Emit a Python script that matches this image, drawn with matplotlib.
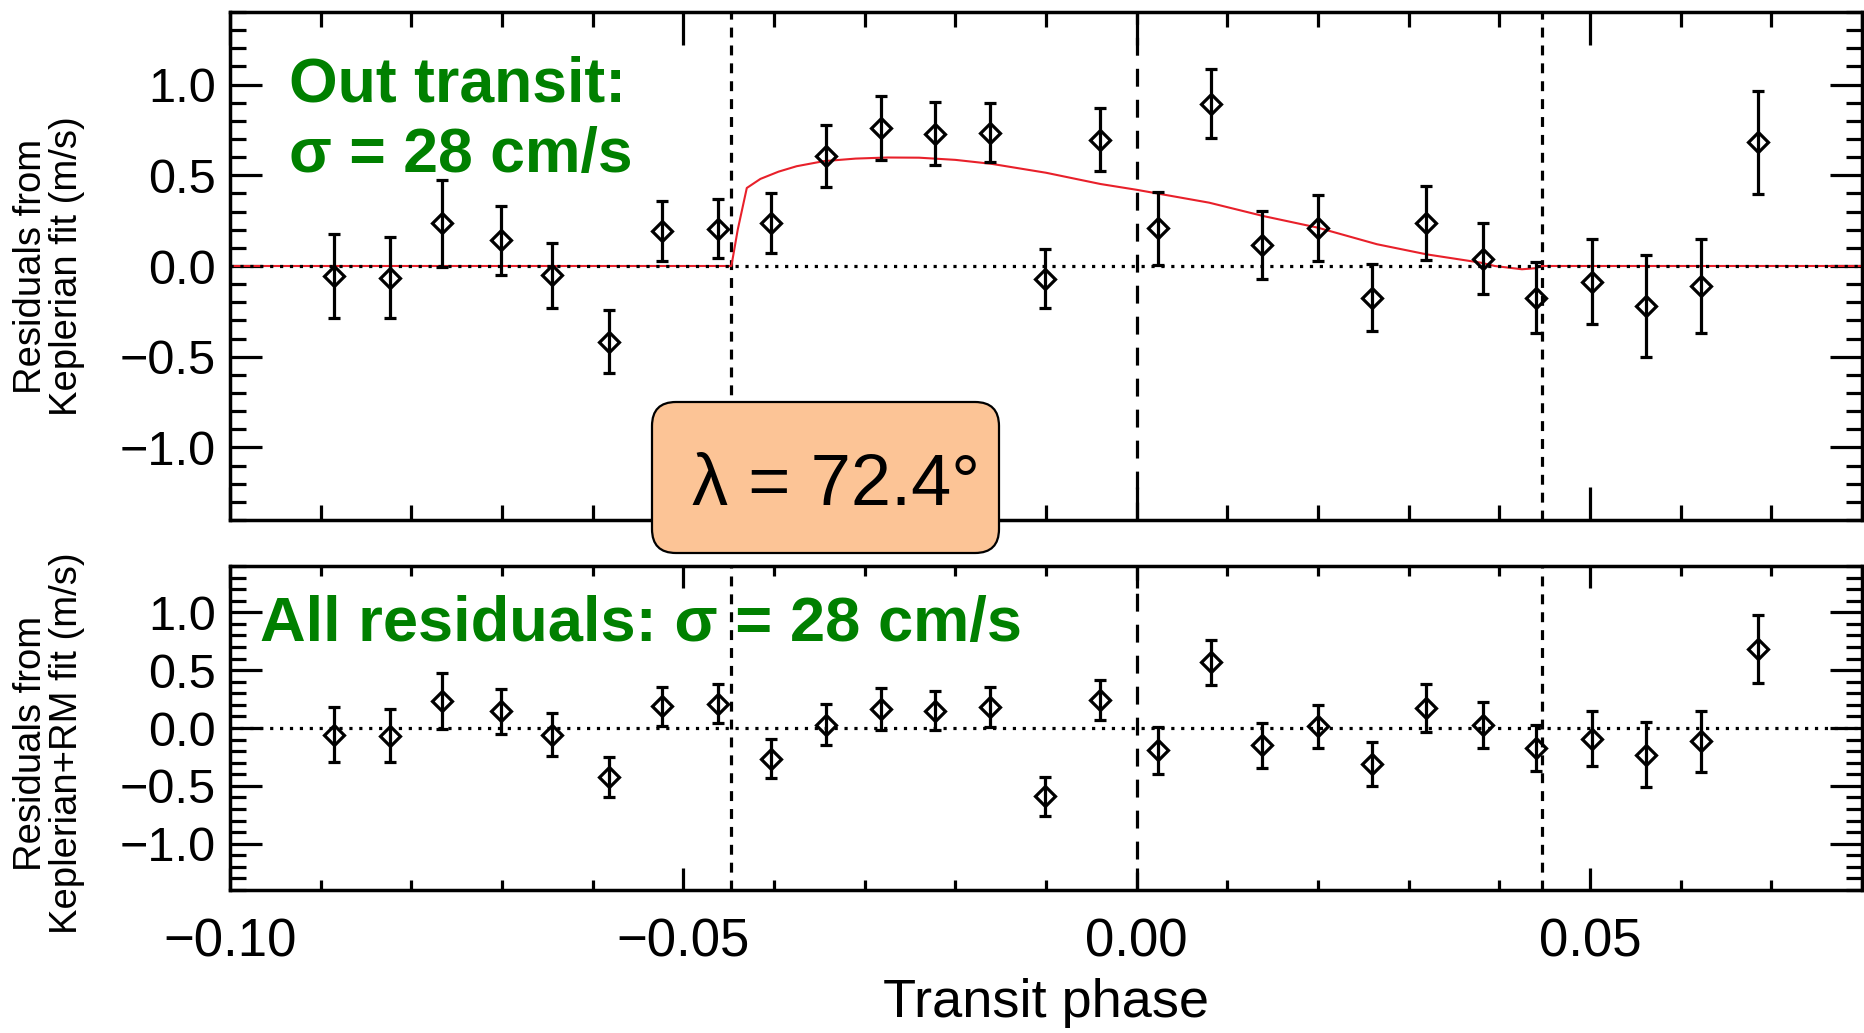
import matplotlib
matplotlib.use("Agg")
import matplotlib.pyplot as plt
from matplotlib.patches import FancyBboxPatch
from matplotlib.ticker import MultipleLocator, FuncFormatter
from matplotlib.transforms import IdentityTransform

plt.rcParams["font.family"] = ["Liberation Sans", "DejaVu Sans"]

# ── Data ──────────────────────────────────────────────────────────────────────
phase = [-0.0885, -0.0824, -0.0766, -0.0701, -0.0645, -0.0582, -0.0523, -0.0462,
         -0.0403, -0.0343, -0.0282, -0.0222, -0.0162, -0.0101, -0.0040, 0.0023,
         0.0082, 0.0138, 0.0200, 0.0260, 0.0319, 0.0382, 0.0440, 0.0502,
         0.0562, 0.0622, 0.0685]

res_kep = [-0.055, -0.064, 0.235, 0.141, -0.051, -0.417, 0.193, 0.206,
           0.235, 0.606, 0.760, 0.730, 0.734, -0.070, 0.697, 0.207,
           0.894, 0.116, 0.211, -0.174, 0.239, 0.040, -0.174, -0.086,
           -0.220, -0.110, 0.683]
err_kep = [0.231, 0.223, 0.238, 0.191, 0.179, 0.172, 0.165, 0.163,
           0.165, 0.170, 0.176, 0.172, 0.162, 0.164, 0.172, 0.203,
           0.190, 0.188, 0.181, 0.183, 0.204, 0.195, 0.196, 0.234,
           0.281, 0.259, 0.284]

res_rm = [-0.057, -0.066, 0.230, 0.144, -0.057, -0.422, 0.187, 0.210,
          -0.267, 0.029, 0.167, 0.149, 0.181, -0.589, 0.239, -0.193,
          0.569, -0.149, 0.014, -0.310, 0.172, 0.029, -0.172, -0.092,
          -0.230, -0.115, 0.684]
err_rm = [0.236, 0.230, 0.241, 0.194, 0.184, 0.171, 0.171, 0.168,
          0.168, 0.175, 0.180, 0.170, 0.170, 0.168, 0.174, 0.205,
          0.195, 0.193, 0.184, 0.190, 0.204, 0.198, 0.198, 0.240,
          0.284, 0.264, 0.292]

# RM model curve
model_phase = [-0.100, -0.0447, -0.0440, -0.0430, -0.0415, -0.0395, -0.0375,
               -0.0345, -0.0310, -0.0275, -0.0240, -0.0200, -0.0160, -0.0100,
               -0.0040, 0.0000, 0.0080, 0.0140, 0.0200, 0.0265, 0.0320,
               0.0380, 0.0395, 0.0425, 0.0440, 0.0447, 0.080]
model_rv = [0.0, 0.0, 0.20, 0.43, 0.48, 0.52, 0.55,
            0.578, 0.592, 0.598, 0.597, 0.585, 0.563, 0.514,
            0.452, 0.420, 0.349, 0.275, 0.211, 0.120, 0.064,
            0.018, 0.0, -0.018, -0.012, 0.0, 0.0]

t_ingress = -0.0447
t_egress = 0.0447

GREEN = "#008000"
RED = "#E8202A"
LW = 2.3


def _minus(fmt):
    return FuncFormatter(lambda v, pos: fmt.format(v).replace("-", "\u2212"))


# ── Figure ────────────────────────────────────────────────────────────────────
W, H = 1865, 1033
fig = plt.figure(figsize=(W / 100, H / 100), dpi=100)
ax_top = fig.add_axes([230 / W, 1 - 520 / H, 1632 / W, 508 / H])
ax_bot = fig.add_axes([230 / W, 1 - 890 / H, 1632 / W, 324 / H])


def style_axes(ax, xmaj, xmin):
    ax.set_xlim(-0.10, 0.08)
    ax.set_ylim(-1.4, 1.4)
    ax.xaxis.set_major_locator(MultipleLocator(0.05))
    ax.xaxis.set_minor_locator(MultipleLocator(0.01))
    ax.xaxis.set_major_formatter(_minus("{:.2f}"))
    ax.yaxis.set_major_locator(MultipleLocator(0.5))
    ax.yaxis.set_minor_locator(MultipleLocator(0.1))
    ax.yaxis.set_major_formatter(_minus("{:.1f}"))
    ax.tick_params(axis="both", which="both", direction="in", top=True, right=True,
                   width=LW, color="black")
    ax.tick_params(axis="y", which="major", length=23, labelsize=35, pad=10)
    ax.tick_params(axis="y", which="minor", length=11.5)
    ax.tick_params(axis="x", which="major", length=xmaj, labelsize=38, pad=20)
    ax.tick_params(axis="x", which="minor", length=xmin)
    for sp in ax.spines.values():
        sp.set_linewidth(2.5)
    # transit markers
    for t in (t_ingress, t_egress):
        ax.axvline(t, color="black", lw=LW, linestyle=(0, (3.1, 2.5)), zorder=1)
    ax.axvline(0.0, color="black", lw=LW, linestyle=(0, (5.6, 4.1)), zorder=1)


def draw_points(ax, y, err):
    ax.errorbar(phase, y, yerr=err, fmt="D", ms=10.5, mfc="none", mec="black",
                mew=LW, ecolor="black", elinewidth=LW, capsize=4.5, capthick=LW,
                zorder=4)


# ── Top panel ─────────────────────────────────────────────────────────────────
style_axes(ax_top, 24, 11)
ax_top.plot(model_phase, model_rv, color=RED, lw=1.5, zorder=2)
ax_top.axhline(0.0, color="black", lw=LW, linestyle=(0, (1, 2.1)), zorder=3)
draw_points(ax_top, res_kep, err_kep)
ax_top.tick_params(axis="x", labelbottom=False)
ax_top.text(-0.0935, 0.909, "Out transit:", color=GREEN, fontsize=45,
            fontweight="bold", va="baseline", ha="left", zorder=6)
ax_top.text(-0.0935, 0.516, "σ = 28 cm/s", color=GREEN, fontsize=45,
            fontweight="bold", va="baseline", ha="left", zorder=6)

# ── Bottom panel ──────────────────────────────────────────────────────────────
style_axes(ax_bot, 16, 7)
ax_bot.axhline(0.0, color="black", lw=LW, linestyle=(0, (1, 2.1)), zorder=3)
draw_points(ax_bot, res_rm, err_rm)
ax_bot.text(-0.0967, 0.755, "All residuals: σ = 28 cm/s", color=GREEN,
            fontsize=45.5, fontweight="bold", va="baseline", ha="left", zorder=6)

# ── Labels ────────────────────────────────────────────────────────────────────
fig.text(49 / W, 1 - 266 / H, "Residuals from\nKeplerian fit (m/s)", rotation=90,
         ha="center", va="center", fontsize=27.5, linespacing=1.0)
fig.text(49 / W, 1 - 743 / H, "Residuals from\nKeplerian+RM fit (m/s)", rotation=90,
         ha="center", va="center", fontsize=27.5, linespacing=1.0)
fig.text(1046 / W, 1 - 1017 / H, "Transit phase", ha="center", va="baseline",
         fontsize=39)

# ── λ box ─────────────────────────────────────────────────────────────────────
box = FancyBboxPatch((652, H - 553), 347, 151,
                     boxstyle="round,pad=0,rounding_size=24",
                     fc="#FCC496", ec="black", lw=1.6,
                     transform=IdentityTransform(), zorder=10)
fig.add_artist(box)
fig.text(692 / W, 1 - 505 / H, "λ = 72.4°", fontsize=52, ha="left",
         va="baseline", zorder=11)

fig.savefig("out.png", dpi=100)
